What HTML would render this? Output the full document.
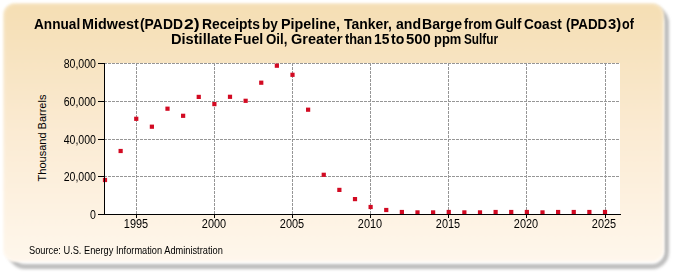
<!DOCTYPE html>
<html><head><meta charset="utf-8"><style>
html,body{margin:0;padding:0;width:675px;height:275px;overflow:hidden;background:#fff;font-family:"Liberation Sans",sans-serif;}
#shadow{position:absolute;left:8px;top:6px;width:651px;height:253px;border:5px solid #bcbcbc;border-radius:17px;filter:blur(1.6px);}
#box{position:absolute;left:3px;top:3px;width:660.5px;height:259px;border-radius:12px;box-shadow:inset 0 0 3px 1px rgba(255,255,255,0.55);filter:blur(0.9px);background:linear-gradient(to bottom,#F5DEB3 0%,#FBEBD3 50%,#FFF7EC 100%);}
.t{position:absolute;white-space:nowrap;font-weight:bold;font-size:14.3px;line-height:18px;word-spacing:-1px;color:#000;transform-origin:0 0;}
.w{position:absolute;white-space:pre;font-weight:bold;font-size:14.3px;line-height:20px;color:#000;transform-origin:0 0;}
svg{position:absolute;left:0;top:0;}
.yl{position:absolute;left:16.200000000000003px;width:80px;text-align:right;font-size:12.6px;line-height:16px;color:#000;transform:scaleX(0.84);transform-origin:100% 0;}
.xl{position:absolute;top:216.5px;width:60px;text-align:center;font-size:12px;line-height:14px;color:#000;transform:scaleX(0.91);}
#ytitle{position:absolute;left:42.4px;top:138.3px;transform:translate(-50%,-50%) rotate(-90deg);font-size:11px;white-space:nowrap;color:#000;}
#src{position:absolute;left:29px;top:244.7px;font-size:10px;white-space:nowrap;color:#000;transform:scaleX(0.925);transform-origin:0 0;}
</style></head><body>
<div id="shadow"></div>
<div id="box"></div>
<div id="title"><span class="w" style="left:33.62px;top:13.5px;transform:scaleX(0.953)">Annual</span>
<span class="w" style="left:81.60px;top:13.5px;transform:scaleX(1.005)">Midwest</span>
<span class="w" style="left:140.37px;top:13.5px;transform:scaleX(0.971)">(PADD</span>
<span class="w" style="left:184.19px;top:13.5px;transform:scaleX(1.226)">2)</span>
<span class="w" style="left:201.63px;top:13.5px;transform:scaleX(0.971)">Receipts</span>
<span class="w" style="left:262.35px;top:13.5px;transform:scaleX(0.955)">by</span>
<span class="w" style="left:280.90px;top:13.5px;transform:scaleX(1.004)">Pipeline,</span>
<span class="w" style="left:343.86px;top:13.5px;transform:scaleX(0.976)">Tanker,</span>
<span class="w" style="left:396.21px;top:13.5px;transform:scaleX(0.987)">and</span>
<span class="w" style="left:421.61px;top:13.5px;transform:scaleX(0.987)">Barge</span>
<span class="w" style="left:463.88px;top:13.5px;transform:scaleX(0.891)">from</span>
<span class="w" style="left:494.74px;top:13.5px;transform:scaleX(0.925)">Gulf</span>
<span class="w" style="left:524.33px;top:13.5px;transform:scaleX(0.949)">Coast</span>
<span class="w" style="left:566.00px;top:13.5px;transform:scaleX(0.933)">(PADD</span>
<span class="w" style="left:607.94px;top:13.5px;transform:scaleX(1.038)">3)</span>
<span class="w" style="left:622.46px;top:13.5px;transform:scaleX(0.877)">of</span>
<span class="w" style="left:170.68px;top:28.5px;transform:scaleX(1.021)">Distillate</span>
<span class="w" style="left:233.60px;top:28.5px;transform:scaleX(0.996)">Fuel</span>
<span class="w" style="left:266.03px;top:28.5px;transform:scaleX(0.930)">Oil,</span>
<span class="w" style="left:291.19px;top:28.5px;transform:scaleX(1.017)">Greater</span>
<span class="w" style="left:344.78px;top:28.5px;transform:scaleX(0.893)">than</span>
<span class="w" style="left:374.43px;top:28.5px;transform:scaleX(0.966)">15</span>
<span class="w" style="left:391.45px;top:28.5px;transform:scaleX(0.988)">to</span>
<span class="w" style="left:405.98px;top:28.5px;transform:scaleX(1.042)">500</span>
<span class="w" style="left:433.79px;top:28.5px;transform:scaleX(0.906)">ppm</span>
<span class="w" style="left:463.99px;top:28.5px;transform:scaleX(0.825)">Sulfur</span></div>
<svg width="675" height="275" viewBox="0 0 675 275">
<rect x="105" y="63" width="515" height="151" fill="#fff"/>
<g stroke="#969696" stroke-width="1" stroke-dasharray="3,1"><line x1="104" x2="620" y1="63.5" y2="63.5"/><line x1="104" x2="620" y1="101.5" y2="101.5"/><line x1="104" x2="620" y1="139.5" y2="139.5"/><line x1="104" x2="620" y1="176.5" y2="176.5"/><line x1="136.5" x2="136.5" y1="63" y2="214"/><line x1="214.5" x2="214.5" y1="63" y2="214"/><line x1="292.5" x2="292.5" y1="63" y2="214"/><line x1="370.5" x2="370.5" y1="63" y2="214"/><line x1="448.5" x2="448.5" y1="63" y2="214"/><line x1="526.5" x2="526.5" y1="63" y2="214"/><line x1="605.5" x2="605.5" y1="63" y2="214"/></g>
<g fill="#D20A22"><rect x="102.90" y="177.90" width="4.2" height="4.2"/><rect x="118.53" y="148.90" width="4.2" height="4.2"/><rect x="134.15" y="116.70" width="4.2" height="4.2"/><rect x="149.78" y="124.60" width="4.2" height="4.2"/><rect x="165.40" y="106.60" width="4.2" height="4.2"/><rect x="181.03" y="113.70" width="4.2" height="4.2"/><rect x="196.65" y="94.80" width="4.2" height="4.2"/><rect x="212.28" y="102.00" width="4.2" height="4.2"/><rect x="227.90" y="94.70" width="4.2" height="4.2"/><rect x="243.53" y="98.70" width="4.2" height="4.2"/><rect x="259.15" y="80.60" width="4.2" height="4.2"/><rect x="274.77" y="63.60" width="4.2" height="4.2"/><rect x="290.40" y="72.70" width="4.2" height="4.2"/><rect x="306.02" y="107.60" width="4.2" height="4.2"/><rect x="321.65" y="172.70" width="4.2" height="4.2"/><rect x="337.27" y="187.80" width="4.2" height="4.2"/><rect x="352.90" y="197.00" width="4.2" height="4.2"/><rect x="368.52" y="204.90" width="4.2" height="4.2"/><rect x="384.15" y="207.90" width="4.2" height="4.2"/><rect x="399.77" y="209.90" width="4.2" height="4.2"/><rect x="415.40" y="210.30" width="4.2" height="4.2"/><rect x="431.02" y="210.30" width="4.2" height="4.2"/><rect x="446.65" y="209.90" width="4.2" height="4.2"/><rect x="462.27" y="210.30" width="4.2" height="4.2"/><rect x="477.90" y="210.30" width="4.2" height="4.2"/><rect x="493.52" y="209.90" width="4.2" height="4.2"/><rect x="509.15" y="209.90" width="4.2" height="4.2"/><rect x="524.77" y="209.90" width="4.2" height="4.2"/><rect x="540.40" y="210.30" width="4.2" height="4.2"/><rect x="556.02" y="209.90" width="4.2" height="4.2"/><rect x="571.65" y="209.90" width="4.2" height="4.2"/><rect x="587.27" y="209.90" width="4.2" height="4.2"/><rect x="602.90" y="209.90" width="4.2" height="4.2"/></g>
<g stroke="#000" stroke-width="1">
<line x1="104.5" y1="63" x2="104.5" y2="215"/>
<line x1="104" y1="214.5" x2="621" y2="214.5"/>
<line x1="98" x2="105" y1="63.5" y2="63.5"/><line x1="98" x2="105" y1="101.5" y2="101.5"/><line x1="98" x2="105" y1="139.5" y2="139.5"/><line x1="98" x2="105" y1="176.5" y2="176.5"/><line x1="98" x2="105" y1="214.5" y2="214.5"/><line x1="136.5" x2="136.5" y1="214" y2="218"/><line x1="214.5" x2="214.5" y1="214" y2="218"/><line x1="292.5" x2="292.5" y1="214" y2="218"/><line x1="370.5" x2="370.5" y1="214" y2="218"/><line x1="448.5" x2="448.5" y1="214" y2="218"/><line x1="526.5" x2="526.5" y1="214" y2="218"/><line x1="605.5" x2="605.5" y1="214" y2="218"/>
</g>
</svg>
<div class="yl" style="top:55.6px">80,000</div><div class="yl" style="top:93.6px">60,000</div><div class="yl" style="top:131.6px">40,000</div><div class="yl" style="top:168.6px">20,000</div><div class="yl" style="top:206.6px">0</div>
<div class="xl" style="left:106.2px">1995</div><div class="xl" style="left:184.1px">2000</div><div class="xl" style="left:262.1px">2005</div><div class="xl" style="left:340.1px">2010</div><div class="xl" style="left:418.1px">2015</div><div class="xl" style="left:496.2px">2020</div><div class="xl" style="left:574.3px">2025</div>
<div id="ytitle">Thousand Barrels</div>
<div id="src">Source: U.S. Energy Information Administration</div>
</body></html>
